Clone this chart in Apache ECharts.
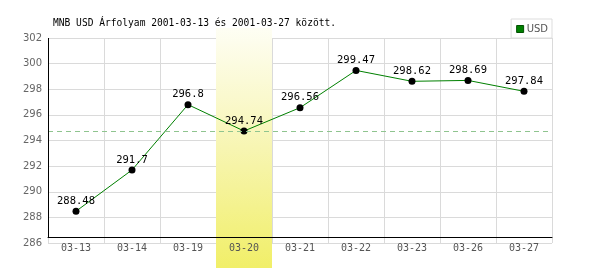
<!DOCTYPE html>
<html>
<head>
<meta charset="utf-8">
<script src="https://cdn.jsdelivr.net/npm/echarts@6/dist/echarts.min.js"></script>
<style>html,body{margin:0;padding:0;background:#fff;}#c{width:600px;height:270px;}</style>
</head>
<body>
<div id="c"></div>
<script>
const titleText = 'MNB USD Árfolyam 2001-03-13 és 2001-03-27 között.';
const seriesName = 'USD';
const categories = ['03-13','03-14','03-19','03-20','03-21','03-22','03-23','03-26','03-27'];
const values = [288.48, 291.7, 296.8, 294.74, 296.56, 299.47, 298.62, 298.69, 297.84];
const highlightCategory = '03-20';
const yMin = 286, yMax = 302, yStep = 2;

const G = {left: 48, right: 48, top: 38, bottom: 27};
const axisLift = -5.5;
const hi = categories.indexOf(highlightCategory);
const bandData = categories.map(c => c === highlightCategory ? 1 : '-');

const chart = echarts.init(document.getElementById('c'), null, {renderer: 'canvas'});
chart.setOption({
  animation: false,
  backgroundColor: '#fff',
  title: {
    text: titleText, left: 53, top: 18, padding: 0,
    textStyle: {fontFamily: 'DejaVu Sans Mono', fontSize: 9.6, fontWeight: 'normal', color: '#000'}
  },
  legend: {
    data: [{name: seriesName, icon: 'rect', itemStyle: {color: '#008000', borderColor: '#005000', borderWidth: 1}}],
    right: 48, top: 19, padding: [5, 4, 4, 5], itemWidth: 7, itemHeight: 7, itemGap: 4,
    backgroundColor: '#fff', borderColor: '#ddd', borderWidth: 1, borderRadius: 0,
    textStyle: {fontFamily: 'DejaVu Sans', fontSize: 10, color: '#555', padding: [0, 0, 0, -2]}
  },
  grid: [
    {left: G.left, right: G.right, top: G.top, bottom: G.bottom},
    {left: G.left, right: G.right, top: 28, bottom: 2}
  ],
  xAxis: [
    {type: 'category', data: categories, gridIndex: 0, position: 'bottom', offset: axisLift, z: 5,
     axisLine: {show: true, lineStyle: {color: '#000', width: 1}},
     axisTick: {show: false}, axisLabel: {show: false}, splitLine: {show: false}},
    {type: 'category', data: categories, gridIndex: 0, position: 'bottom', z: 0,
     axisLine: {show: false}, axisTick: {show: false}, axisLabel: {show: false},
     splitLine: {show: true, interval: 0, lineStyle: {color: '#dadada', width: 1}}},
    {type: 'category', data: categories, gridIndex: 0, position: 'bottom', z: 5,
     axisLine: {show: false}, axisTick: {show: false}, splitLine: {show: false},
     axisLabel: {show: true, interval: 0, margin: 0, fontFamily: 'DejaVu Sans Mono', fontSize: 10, color: '#555'}},
    {type: 'category', data: categories, gridIndex: 1, position: 'bottom', show: false}
  ],
  yAxis: [
    {type: 'value', min: yMin, max: yMax, interval: yStep, gridIndex: 0,
     axisLine: {show: false}, axisTick: {show: false},
     axisLabel: {fontFamily: 'DejaVu Sans', fontSize: 10, color: '#666', margin: 6},
     splitLine: {show: true, lineStyle: {color: '#dadada', width: 1}}},
    {type: 'value', min: 0, max: 1, gridIndex: 1, show: false}
  ],
  series: [
    {type: 'line', name: 'avgline', xAxisIndex: 1, yAxisIndex: 0, data: values, z: 1,
     silent: true, symbol: 'none', lineStyle: {opacity: 0}, label: {show: false},
     markLine: {silent: true, symbol: 'none', label: {show: false},
       lineStyle: {color: '#8fc48f', type: [5, 4], width: 1},
       data: [{yAxis: values[hi]}]}},
    {type: 'bar', name: 'band', xAxisIndex: 3, yAxisIndex: 1, data: bandData, z: 1.5,
     barWidth: '100%', silent: true,
     itemStyle: {color: new echarts.graphic.LinearGradient(0, 0, 0, 1, [
       {offset: 0, color: '#fefef4'}, {offset: 0.5, color: '#f7f5b2'}, {offset: 1, color: '#f1ef68'}])}},
    {type: 'line', name: seriesName, xAxisIndex: 1, yAxisIndex: 0, data: values, z: 3,
     symbol: 'circle', symbolSize: 7,
     itemStyle: {color: '#000'},
     lineStyle: {color: '#008000', width: 1},
     label: {show: true, position: 'top', distance: 1, fontFamily: 'DejaVu Sans Mono', fontSize: 10.5, color: '#000'}}
  ],
  graphic: [
    {type: 'line', z: 10, shape: {x1: G.left + 0.5, y1: G.top, x2: G.left + 0.5, y2: 270 - G.bottom + axisLift},
     style: {stroke: '#000', lineWidth: 1}}
  ]
});
</script>
</body>
</html>
